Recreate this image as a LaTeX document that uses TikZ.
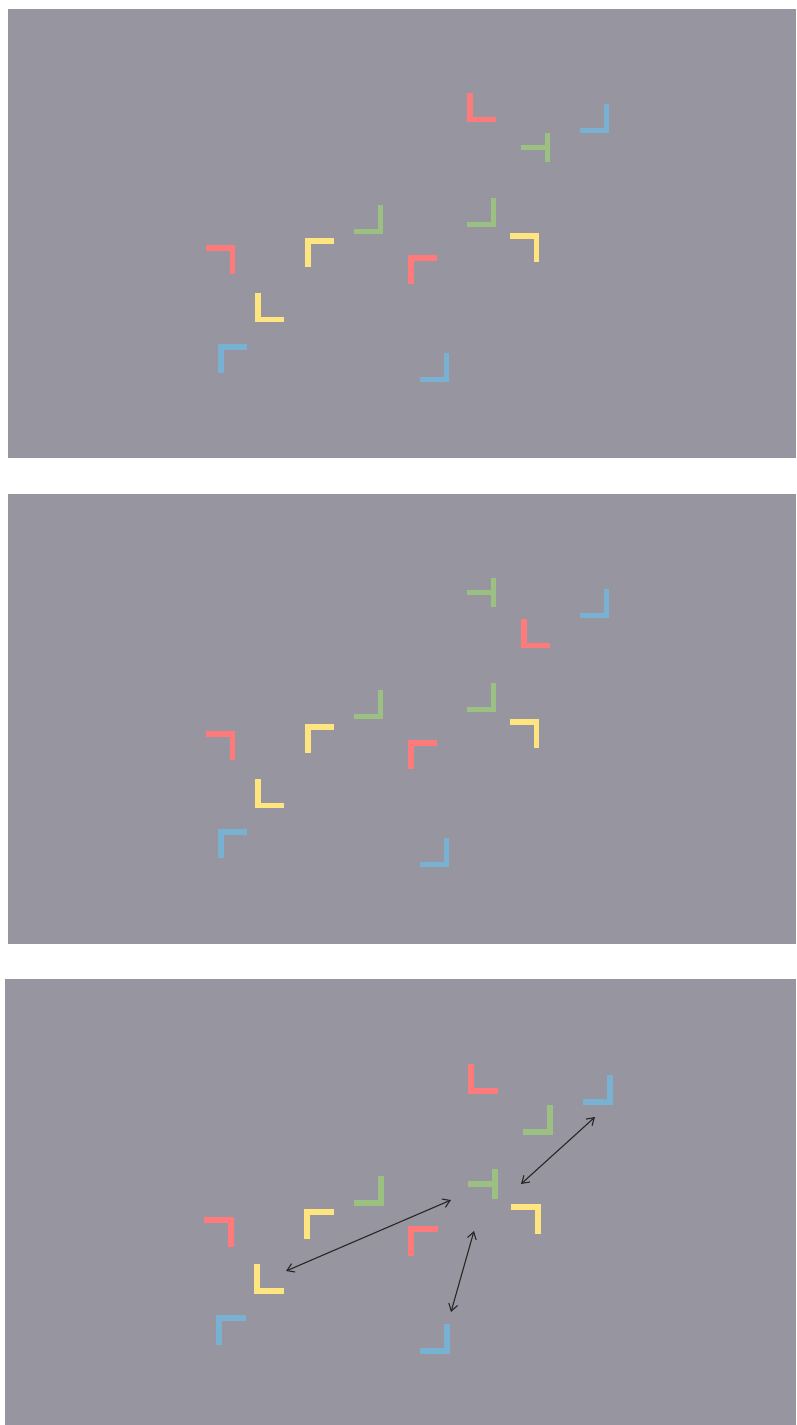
\documentclass[tikz,border=0pt]{standalone}
\usetikzlibrary{arrows.meta}
\definecolor{panelgray}{RGB}{151,150,160}
\definecolor{markred}{RGB}{255,122,122}
\definecolor{markyellow}{RGB}{255,229,128}
\definecolor{markgreen}{RGB}{155,192,130}
\definecolor{markblue}{RGB}{120,177,210}
\tikzset{
  bracket/.style={line width=5.5pt, line cap=butt, line join=miter},
  % corner marks, anchored at the top left of a 29x29 box
  pics/lb/.style={code={\draw[bracket,#1] (2.75,0) -- (2.75,26.25) -- (29,26.25);}},
  pics/rb/.style={code={\draw[bracket,#1] (26.25,0) -- (26.25,26.25) -- (0,26.25);}},
  pics/lt/.style={code={\draw[bracket,#1] (2.75,29) -- (2.75,2.75) -- (29,2.75);}},
  pics/rt/.style={code={\draw[bracket,#1] (0,2.75) -- (26.25,2.75) -- (26.25,29);}},
  pics/tee/.style={code={\draw[bracket,#1] (26.25,0) -- (26.25,29) (0,14.5) -- (26.25,14.5);}},
  link/.style={{Straight Barb[length=7pt,width=9pt]}-{Straight Barb[length=7pt,width=9pt]}, line width=1.1pt, black!85}
}
\begin{document}
\begin{tikzpicture}[x=1pt, y=-1pt]
  \useasboundingbox (0,0) rectangle (796,1425);
  \fill[white] (0,0) rectangle (796,1425);
  % Panels
  \fill[panelgray] (8,9) rectangle (796,458);
  \fill[panelgray] (8,494) rectangle (796,944);
  \fill[panelgray] (5,979) rectangle (796,1425);
  % Panel 1
  \pic at (467,93) {lb=markred};
  \pic at (580,104) {rb=markblue};
  \pic at (521,133) {tee=markgreen};
  \pic at (467,198) {rb=markgreen};
  \pic at (354,205) {rb=markgreen};
  \pic at (510,233) {rt=markyellow};
  \pic at (408,255) {lt=markred};
  \pic at (305,238) {lt=markyellow};
  \pic at (206,245) {rt=markred};
  \pic at (255,293) {lb=markyellow};
  \pic at (218,344) {lt=markblue};
  \pic at (420,353) {rb=markblue};
  % Panel 2: red and green swapped
  \pic at (467,578) {tee=markgreen};
  \pic at (580,589) {rb=markblue};
  \pic at (521,619) {lb=markred};
  \pic at (467,683) {rb=markgreen};
  \pic at (354,690) {rb=markgreen};
  \pic at (510,719) {rt=markyellow};
  \pic at (408,740) {lt=markred};
  \pic at (305,724) {lt=markyellow};
  \pic at (206,731) {rt=markred};
  \pic at (255,779) {lb=markyellow};
  \pic at (218,829) {lt=markblue};
  \pic at (420,838) {rb=markblue};
  % Panel 3: green marks swapped
  \begin{scope}[bracket/.append style={line width=6pt}]
  \pic[scale=1.03] at (468,1064) {lb=markred};
  \pic[scale=1.03] at (583,1075) {rb=markblue};
  \pic[scale=1.03] at (523,1105) {rb=markgreen};
  \pic[scale=1.03] at (468,1169) {tee=markgreen};
  \pic[scale=1.03] at (354,1176) {rb=markgreen};
  \pic[scale=1.03] at (511,1204) {rt=markyellow};
  \pic[scale=1.03] at (408,1226) {lt=markred};
  \pic[scale=1.03] at (304,1209) {lt=markyellow};
  \pic[scale=1.03] at (204,1217) {rt=markred};
  \pic[scale=1.03] at (254,1264) {lb=markyellow};
  \pic[scale=1.03] at (216,1315) {lt=markblue};
  \pic[scale=1.03] at (420,1324) {rb=markblue};
  \end{scope}
  % Link ends
  \coordinate (blueEnd) at (595,1117);
  \coordinate (teeRight) at (521,1184);
  \coordinate (teeLeft) at (451,1200);
  \coordinate (yellowEnd) at (286,1271);
  \coordinate (teeBelow) at (474,1231);
  \coordinate (blueLowEnd) at (451,1312);
  % Links
  \draw[link] (blueEnd) -- (teeRight);
  \draw[link] (teeLeft) -- (yellowEnd);
  \draw[link] (teeBelow) -- (blueLowEnd);
\end{tikzpicture}
\end{document}
